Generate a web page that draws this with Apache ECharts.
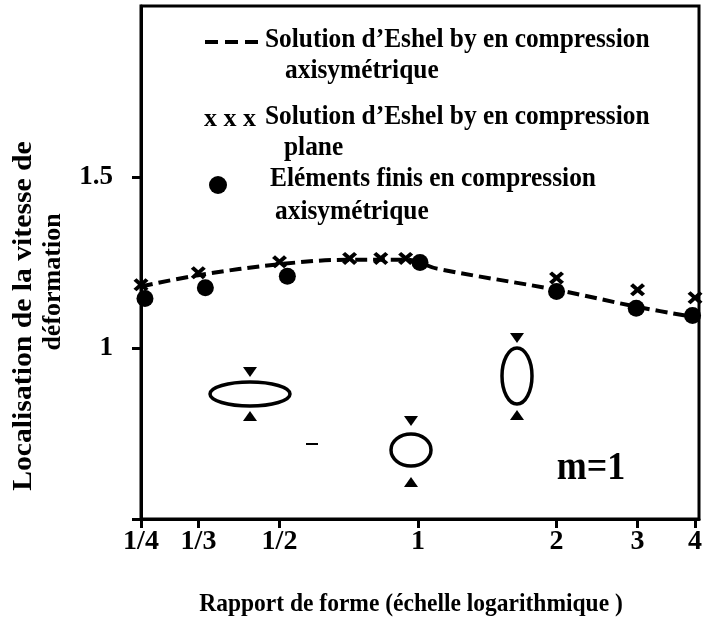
<!DOCTYPE html>
<html>
<head>
<meta charset="utf-8">
<script src="https://cdn.jsdelivr.net/npm/echarts@6/dist/echarts.min.js"></script>
<style>
  html, body { margin: 0; padding: 0; background: #fff; }
  #chart { width: 709px; height: 630px; }
</style>
</head>
<body>
<div id="chart"></div>
<script>
// axis ticks (aspect ratio, log scale)
var tickRatios = [1/4, 1/3, 1/2, 1, 2, 3, 4];
var tickLabels = ['1/4', '1/3', '1/2', '1', '2', '3', '4'];

// Eshel solution, axisymmetric compression (dashed curve)
var axiX = [0.25, 0.333, 0.5, 0.7, 0.95, 1.1, 2, 3, 4];
var axiY = [1.18, 1.213, 1.245, 1.258, 1.258, 1.232, 1.17, 1.12, 1.09];

// Eshel solution, plane compression (x marks)
var planeX = [0.25, 0.333, 0.5, 0.71, 0.83, 0.94, 2, 3, 4];
var planeY = [1.185, 1.22, 1.252, 1.262, 1.262, 1.262, 1.205, 1.17, 1.147];

// finite elements, axisymmetric compression (dots)
var femX = [0.255, 0.345, 0.52, 1.01, 2, 2.98, 3.95];
var femY = [1.145, 1.176, 1.21, 1.25, 1.165, 1.116, 1.095];

var FONT = '"Liberation Serif", "Times New Roman", serif';

function pairs(xs, ys) {
    var out = [];
    for (var i = 0; i < xs.length; i++) {
        out.push([Math.log2(xs[i]), ys[i]]);
    }
    return out;
}

var tickPos = tickRatios.map(function (r) { return Math.log2(r); });

function tickText(v) {
    for (var i = 0; i < tickPos.length; i++) {
        if (Math.abs(tickPos[i] - v) < 1e-6) return tickLabels[i];
    }
    return '';
}

// small helper for the squeezed-specimen drawings
function tri(cx, cy, down) {
    var w = 7, h = 10;
    var pts = down
        ? [[cx - w, cy - h / 2], [cx + w, cy - h / 2], [cx, cy + h / 2]]
        : [[cx - w, cy + h / 2], [cx + w, cy + h / 2], [cx, cy - h / 2]];
    return { type: 'polygon', shape: { points: pts }, style: { fill: '#000' }, silent: true };
}

// text with a horizontal squeeze (the scan uses a narrow bold Times)
function txt(x, y, s, size, align, sx, rot) {
    return {
        type: 'text',
        x: x, y: y,
        scaleX: sx || 1,
        rotation: rot || 0,
        style: {
            text: s,
            font: 'bold ' + size + 'px ' + FONT,
            fill: '#000',
            align: align || 'left',
            verticalAlign: 'middle'
        },
        silent: true
    };
}

var chart = echarts.init(document.getElementById('chart'));

var option = {
    backgroundColor: '#fff',
    animation: false,
    grid: {
        left: 141, right: 10, top: 6, bottom: 111,
        show: true, borderColor: '#000', borderWidth: 3,
        outerBoundsMode: 'none'
    },
    xAxis: {
        type: 'value',
        min: Math.log2(0.25),
        max: Math.log2(4.08),
        splitLine: { show: false },
        axisLine: { onZero: false, lineStyle: { color: '#000', width: 3 } },
        axisTick: { customValues: tickPos, length: 9, lineStyle: { color: '#000', width: 3 } },
        axisLabel: {
            customValues: tickPos,
            formatter: tickText,
            margin: 9,
            color: '#000',
            fontFamily: FONT,
            fontWeight: 'bold',
            fontSize: 28
        }
    },
    yAxis: {
        type: 'value',
        min: 0.5, max: 2, interval: 0.5,
        splitLine: { show: false },
        axisLine: { onZero: false, lineStyle: { color: '#000', width: 3 } },
        axisTick: { customValues: [0.5, 1, 1.5], length: 9, lineStyle: { color: '#000', width: 3 } },
        axisLabel: {
            customValues: [1, 1.5],
            margin: 28,
            color: '#000',
            fontFamily: FONT,
            fontWeight: 'bold',
            fontSize: 27
        }
    },
    series: [
        {
            name: 'Solution d\u2019Eshel by en compression axisymétrique',
            type: 'line',
            data: pairs(axiX, axiY),
            smooth: 0.35,
            showSymbol: false,
            lineStyle: { color: '#000', width: 4, type: [12, 6] },
            z: 2
        },
        {
            name: 'Solution d\u2019Eshel by en compression plane',
            type: 'scatter',
            data: pairs(planeX, planeY),
            symbol: 'path://M0,2 L2,0 L5,3 L8,0 L10,2 L7,5 L10,8 L8,10 L5,7 L2,10 L0,8 L3,5 Z',
            symbolSize: [15, 13],
            itemStyle: { color: '#000', opacity: 1 },
            z: 3
        },
        {
            name: 'Eléments finis en compression axisymétrique',
            type: 'scatter',
            data: pairs(femX, femY),
            symbol: 'circle',
            symbolSize: 17,
            itemStyle: { color: '#000', opacity: 1 },
            z: 4
        }
    ],
    graphic: [
        // legend block
        { type: 'line', shape: { x1: 205, y1: 42, x2: 259, y2: 42 },
          style: { stroke: '#000', lineWidth: 4, lineDash: [13, 7] }, silent: true },
        txt(265, 40, 'Solution d\u2019Eshel by en compression', 27, 'left', 0.94),
        txt(285, 71, 'axisymétrique', 27, 'left', 0.94),
        txt(204, 119, 'x x x', 26, 'left', 1),
        txt(265, 117, 'Solution d\u2019Eshel by en compression', 27, 'left', 0.94),
        txt(284, 148, 'plane', 27, 'left', 0.94),
        { type: 'circle', shape: { cx: 218, cy: 185, r: 9 }, style: { fill: '#000' }, silent: true },
        txt(270, 179, 'Eléments finis en compression', 27, 'left', 0.94),
        txt(275, 212, 'axisymétrique', 27, 'left', 0.94),

        // specimen sketches
        { type: 'ellipse', shape: { cx: 250, cy: 394, rx: 40, ry: 12 },
          style: { fill: 'none', stroke: '#000', lineWidth: 3.5 }, silent: true },
        tri(250, 372, true), tri(250, 416, false),
        { type: 'ellipse', shape: { cx: 411, cy: 450, rx: 20, ry: 16 },
          style: { fill: 'none', stroke: '#000', lineWidth: 3.5 }, silent: true },
        tri(411, 421, true), tri(411, 482, false),
        { type: 'ellipse', shape: { cx: 517, cy: 376, rx: 15, ry: 28 },
          style: { fill: 'none', stroke: '#000', lineWidth: 3.5 }, silent: true },
        tri(517, 338, true), tri(517, 415, false),
        { type: 'line', shape: { x1: 306, y1: 444, x2: 318, y2: 444 },
          style: { stroke: '#000', lineWidth: 2 }, silent: true },

        txt(591, 469, 'm=1', 40, 'center', 0.9),

        // axis titles
        txt(24, 316, 'Localisation de la vitesse de', 28, 'center', 1.06, Math.PI / 2),
        txt(53, 282, 'déformation', 26, 'center', 1, Math.PI / 2),
        txt(411, 605, 'Rapport de forme (échelle logarithmique )', 25, 'center', 0.94)
    ]
};

chart.setOption(option);
</script>
</body>
</html>
